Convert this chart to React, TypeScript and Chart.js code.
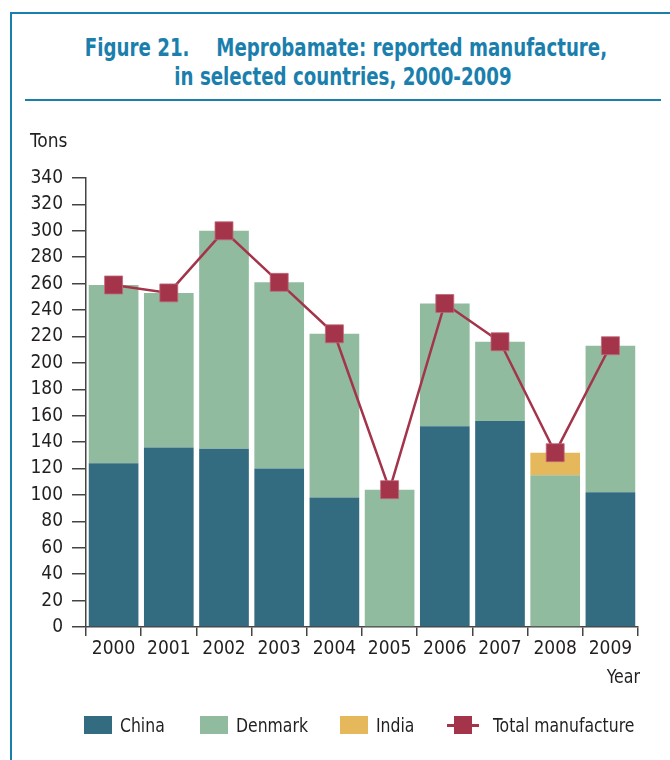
import React, { useEffect, useRef } from 'react';
import { Chart, registerables } from 'chart.js';

Chart.register(...registerables);

const years = ['2000', '2001', '2002', '2003', '2004', '2005', '2006', '2007', '2008', '2009'];
const china = [124, 136, 135, 120, 98, 0, 152, 156, 0, 102];
const denmark = [135, 117, 165, 141, 124, 104, 93, 60, 115, 111];
const india = [0, 0, 0, 0, 0, 0, 0, 0, 17, 0];
const totalManufacture = [259, 253, 300, 261, 222, 104, 245, 216, 132, 213];
const yMax = 340;
const yStep = 20;

const FONT = '"Liberation Sans Narrow", "DejaVu Sans Condensed", "Arial Narrow", sans-serif';
const BLUE = '#1b7fad';
const TEXT = '#231f20';
const C_CHINA = '#336b80';
const C_DENMARK = '#90bb9f';
const C_INDIA = '#e5b85c';
const C_TOTAL = '#a3344a';

export default function App() {
  const ref = useRef<HTMLCanvasElement | null>(null);

  useEffect(() => {
    if (!ref.current) return;
    const chart = new Chart(ref.current, {
      type: 'bar',
      data: {
        labels: years,
        datasets: [
          {
            type: 'line',
            label: 'Total manufacture',
            data: totalManufacture,
            borderColor: C_TOTAL,
            borderWidth: 2.5,
            backgroundColor: C_TOTAL,
            pointStyle: 'rect',
            pointRadius: 12.7,
            pointBackgroundColor: C_TOTAL,
            pointBorderColor: '#c0687a',
            pointBorderWidth: 0.8,
            tension: 0,
            order: 0,
            stack: 'total',
          } as any,
          {
            label: 'China',
            data: china,
            backgroundColor: C_CHINA,
            stack: 'a',
            order: 1,
            barPercentage: 0.9,
            categoryPercentage: 1.0,
          },
          {
            label: 'Denmark',
            data: denmark,
            backgroundColor: C_DENMARK,
            stack: 'a',
            order: 1,
            barPercentage: 0.9,
            categoryPercentage: 1.0,
          },
          {
            label: 'India',
            data: india,
            backgroundColor: C_INDIA,
            stack: 'a',
            order: 1,
            barPercentage: 0.9,
            categoryPercentage: 1.0,
          },
        ],
      },
      options: {
        responsive: false,
        maintainAspectRatio: false,
        animation: false,
        events: [],
        layout: { padding: { left: 0, top: 178, right: 32, bottom: 60 } },
        plugins: {
          legend: { display: false },
          tooltip: { enabled: false },
          title: { display: false },
        },
        scales: {
          x: {
            type: 'category',
            stacked: true,
            offset: true,
            grid: {
              offset: true,
              drawOnChartArea: false,
              drawTicks: true,
              tickLength: 9,
              color: '#444',
              lineWidth: 1.5,
            },
            border: { display: true, color: '#444', width: 1.5 },
            ticks: {
              font: { family: FONT, size: 19 },
              color: TEXT,
              padding: 2,
              maxRotation: 0,
              autoSkip: false,
            },
            afterFit: (s: any) => {
              s.height = 73;
            },
          },
          y: {
            stacked: true,
            min: 0,
            max: yMax,
            ticks: {
              stepSize: yStep,
              font: { family: FONT, size: 19 },
              color: TEXT,
              padding: 9,
            },
            grid: {
              drawOnChartArea: false,
              drawTicks: true,
              tickLength: 14,
              color: '#444',
              lineWidth: 1.5,
            },
            border: { display: true, color: '#444', width: 1.5 },
            afterFit: (s: any) => {
              s.width = 86;
            },
          },
        },
      },
    });
    return () => chart.destroy();
  }, []);

  const legendText: React.CSSProperties = {
    position: 'absolute',
    top: 713,
    fontFamily: FONT,
    fontSize: 20,
    color: TEXT,
    lineHeight: '24px',
    whiteSpace: 'nowrap',
    transform: 'scaleX(0.87)',
    transformOrigin: 'left center',
  };
  const box = (left: number, color: string): React.CSSProperties => ({
    position: 'absolute',
    left,
    top: 716,
    width: 28,
    height: 18,
    background: color,
  });
  const titleLine: React.CSSProperties = {
    display: 'block',
    whiteSpace: 'nowrap',
    transform: 'scaleX(0.81)',
    transformOrigin: 'center center',
  };

  return (
    <div style={{ position: 'absolute', left: 0, top: 0, width: 670, height: 760, background: '#fff', overflow: 'hidden' }}>
      <div style={{ position: 'absolute', left: 10, top: 12, width: 660, height: 2, background: BLUE }} />
      <div style={{ position: 'absolute', left: 10, top: 12, width: 2, height: 748, background: BLUE }} />
      <div
        style={{
          position: 'absolute',
          left: 12,
          top: 33,
          width: 662,
          textAlign: 'center',
          fontFamily: FONT,
          fontWeight: 'bold',
          fontSize: 25,
          lineHeight: '29px',
          color: BLUE,
        }}
      >
        <div style={{ ...titleLine, transform: 'translateX(3px) scaleX(0.81)' }}>
          Figure 21.<span style={{ display: 'inline-block', width: 33 }} />Meprobamate: reported manufacture,
        </div>
        <div style={titleLine}>in selected countries, 2000-2009</div>
      </div>
      <div style={{ position: 'absolute', left: 25, top: 99, width: 636, height: 1.5, background: BLUE }} />
      <canvas ref={ref} width={670} height={760} style={{ position: 'absolute', left: 0, top: 0 }} />
      <div style={{ position: 'absolute', left: 30, top: 128, fontFamily: FONT, fontSize: 20, color: TEXT, transform: 'scaleX(0.95)', transformOrigin: 'left center' }}>Tons</div>
      <div style={{ position: 'absolute', left: 560, top: 664, width: 80, textAlign: 'right', fontFamily: FONT, fontSize: 20, color: TEXT, transform: 'scaleX(0.88)', transformOrigin: 'right center' }}>Year</div>
      <div style={box(84, C_CHINA)} />
      <div style={{ ...legendText, left: 120 }}>China</div>
      <div style={box(200, C_DENMARK)} />
      <div style={{ ...legendText, left: 236 }}>Denmark</div>
      <div style={box(340, C_INDIA)} />
      <div style={{ ...legendText, left: 376 }}>India</div>
      <div style={{ position: 'absolute', left: 447, top: 724, width: 32, height: 3, background: C_TOTAL }} />
      <div style={{ position: 'absolute', left: 454, top: 716, width: 18, height: 18, background: C_TOTAL }} />
      <div style={{ ...legendText, left: 493 }}>Total manufacture</div>
    </div>
  );
}
